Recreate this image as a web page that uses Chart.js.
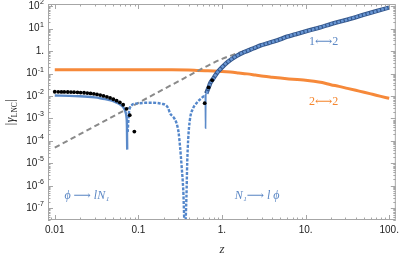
<!DOCTYPE html>
<html>
<head>
<meta charset="utf-8">
<script src="https://cdn.jsdelivr.net/npm/chart.js@4.4.0/dist/chart.umd.min.js"></script>
<style>
  html, body { margin: 0; padding: 0; background: #fff; }
  #wrap { width: 403px; height: 256px; }
</style>
</head>
<body>
<div id="wrap"><canvas id="myChart" width="403" height="256"></canvas></div>
<script>
// tick labels
const xTicks = [0.01, 0.1, 1, 10, 100];
const xTickLabels = ['0.01', '0.1', '1.', '10.', '100.'];
const yTicks = [1e-7, 1e-6, 1e-5, 1e-4, 1e-3, 1e-2, 1e-1, 1, 10, 100];
const yTickBase = ['10', '10', '10', '10', '10', '10', '10', '1.', '10', '10'];
const yTickSup = ['-7', '-6', '-5', '-4', '-3', '-2', '-1', '', '1', '2'];

// 2<->2 (orange)
const orangeZ = [0.01, 0.0158, 0.0251, 0.0398, 0.0631, 0.1, 0.158, 0.251, 0.398, 0.501, 0.631, 0.794, 1, 1.26, 1.58, 2, 2.51, 3.16, 3.98, 5.01, 6.31, 7.94, 10, 12.6, 15.8, 20, 25.1, 31.6, 39.8, 50.1, 63.1, 79.4, 100];
const orangeV = [0.150, 0.150, 0.150, 0.150, 0.150, 0.149, 0.148, 0.147, 0.143, 0.139, 0.135, 0.131, 0.125, 0.117, 0.107, 0.097, 0.086, 0.076, 0.069, 0.063, 0.058, 0.054, 0.051, 0.046, 0.040, 0.032, 0.027, 0.022, 0.018, 0.0148, 0.012, 0.0097, 0.0079];

// gray dashed approximation
const dashZ = [0.01, 0.02, 0.05, 0.1, 0.2, 0.3, 0.5, 0.8, 1, 1.5, 2, 3, 5, 10, 20, 50, 100];
const dashV = [5e-5, 2e-4, 1.25e-3, 5e-3, 0.02, 0.045, 0.125, 0.31, 0.45, 0.78, 1.12, 1.9, 3.5, 7.6, 16, 42, 88];

// 1<->2 (blue), three pieces
const blueLowZ = [0.01, 0.015, 0.02, 0.025, 0.03, 0.035, 0.04, 0.045, 0.05, 0.055, 0.06, 0.064, 0.067, 0.07, 0.072, 0.073, 0.0735];
const blueLowV = [0.0105, 0.0102, 0.0098, 0.0093, 0.0087, 0.0080, 0.0073, 0.0066, 0.0059, 0.0051, 0.0043, 0.0036, 0.0029, 0.0020, 0.0012, 4.5e-4, 4.1e-5];
const blueMidZ = [0.0745, 0.0771, 0.0836, 0.09, 0.101, 0.12, 0.144, 0.17, 0.19, 0.211, 0.226, 0.239, 0.265, 0.286, 0.302, 0.315, 0.329, 0.344, 0.36, 0.376, 0.384, 0.394, 0.413, 0.452, 0.494, 0.53, 0.567, 0.593, 0.62];
const blueMidV = [2.5e-4, 0.00177, 0.0040, 0.0045, 0.00475, 0.0050, 0.00506, 0.0049, 0.0045, 0.0040, 0.0030, 0.00172, 0.0011, 6.2e-4, 2.5e-4, 5.7e-5, 7.5e-6, 6.9e-7, 1e-8, 3.5e-7, 1.1e-5, 1.13e-4, 8.7e-4, 0.00286, 0.00475, 0.0064, 0.0079, 0.0093, 0.0102];
const blueHighZ = [0.62, 0.632, 0.636, 0.641, 0.649, 0.692, 0.73, 0.778, 0.83, 0.891, 1, 1.17, 1.5, 1.85, 2.4, 2.9, 3.6, 4.57, 6, 7.5, 10, 15, 20, 30, 50, 70, 100];
const blueHighV = [0.0102, 0.0108, 3.7e-4, 0.0115, 0.0132, 0.024, 0.040, 0.056, 0.082, 0.119, 0.19, 0.33, 0.62, 0.91, 1.35, 1.81, 2.3, 3.0, 4.4, 5.6, 7.6, 11.5, 16, 24, 42, 60, 88];

// black points
const blackLowZ = [0.01, 0.011, 0.012, 0.013, 0.0143, 0.0156, 0.017, 0.0187, 0.0204, 0.0224, 0.0245, 0.0268, 0.0293, 0.032, 0.035, 0.0383, 0.042, 0.0459, 0.0502, 0.055, 0.0601, 0.0658, 0.072, 0.0788, 0.0895];
const blackLowV = [0.0155, 0.0154, 0.0153, 0.0152, 0.0151, 0.0150, 0.0148, 0.0146, 0.0143, 0.0140, 0.0136, 0.0131, 0.0125, 0.0118, 0.0110, 0.0101, 0.0092, 0.0082, 0.0072, 0.0062, 0.0052, 0.0041, 0.0027, 0.0014, 2.6e-4];
const blackHighZ = [0.621, 0.692, 0.763];
const blackHighV = [0.0048, 0.0243, 0.051];

// text labels inside the plot
const annoText = ['1\u27F72', '2\u27F72', '\u03D5 \u27F6 lN\u2081', 'N\u2081\u27F6 l \u03D5'];
const annoZ = [16.4, 16.4, 0.0242, 2.63];
const annoV = [2.6, 0.0057, 3.6e-7, 3.5e-7];
const annoColor = ['#5b87c4', '#f5862e', '#5b87c4', '#5b87c4'];

const BLUE = '#5b8ac9';
const toPts = (xs, ys) => xs.map((x, i) => ({x: x, y: ys[i]}));

function decadeTicks(lo, hi) {
  let out = [];
  for (let e = Math.floor(Math.log10(lo)); e <= Math.ceil(Math.log10(hi)); e++) {
    for (let m = 1; m < 10; m++) {
      let v = m * Math.pow(10, e);
      if (v >= lo && v <= hi) out.push([v, m === 1]);
    }
  }
  return out;
}

const framePlugin = {
  id: 'frame',
  afterDraw(chart) {
    const {ctx, chartArea: a, scales} = chart;
    const xs = scales.x, ys = scales.y;
    ctx.save();
    ctx.strokeStyle = '#a6a6a6';
    ctx.lineWidth = 1;
    ctx.strokeRect(a.left + 0.5, a.top + 0.5, a.right - a.left - 1, a.bottom - a.top - 1);
    ctx.beginPath();
    decadeTicks(xs.min, xs.max).forEach(([v, major]) => {
      const px = Math.round(xs.getPixelForValue(v)) + 0.5;
      const len = major ? 5 : 2.5;
      ctx.moveTo(px, a.bottom); ctx.lineTo(px, a.bottom - len);
      ctx.moveTo(px, a.top); ctx.lineTo(px, a.top + len);
    });
    decadeTicks(ys.min, ys.max).forEach(([v, major]) => {
      const py = Math.round(ys.getPixelForValue(v)) + 0.5;
      const len = major ? 5 : 2.5;
      ctx.moveTo(a.left, py); ctx.lineTo(a.left + len, py);
      ctx.moveTo(a.right, py); ctx.lineTo(a.right - len, py);
    });
    ctx.stroke();

    // y tick labels with superscripts
    ctx.fillStyle = '#222';
    ctx.textAlign = 'right';
    ctx.textBaseline = 'middle';
    yTicks.forEach((v, i) => {
      const py = ys.getPixelForValue(v);
      let xr = a.left - 4;
      if (yTickSup[i]) {
        ctx.font = '7px "Liberation Sans", sans-serif';
        ctx.fillText(yTickSup[i], xr, py - 4);
        xr -= ctx.measureText(yTickSup[i]).width + 0.5;
      }
      ctx.font = '10px "Liberation Sans", sans-serif';
      ctx.fillText(yTickBase[i], xr, py);
    });

    // y axis title |gamma_LNC|
    ctx.save();
    ctx.translate(10, (a.top + a.bottom) / 2);
    ctx.rotate(-Math.PI / 2);
    const parts = [
      ['|', '12px "Liberation Serif", serif', 0],
      ['\u03B3', 'italic 12px "Liberation Serif", serif', 0],
      ['LNC', '7.5px "Liberation Serif", serif', 2.5],
      ['|', '12px "Liberation Serif", serif', 0]
    ];
    let total = 0;
    parts.forEach(p => { ctx.font = p[1]; total += ctx.measureText(p[0]).width + 0.5; });
    let cx = -total / 2;
    ctx.textAlign = 'left';
    ctx.textBaseline = 'alphabetic';
    parts.forEach(p => {
      ctx.font = p[1];
      ctx.fillText(p[0], cx, 4 + p[2]);
      cx += ctx.measureText(p[0]).width + 0.5;
    });
    ctx.restore();

    // labels in the plot
    ctx.textAlign = 'center';
    ctx.textBaseline = 'middle';
    annoText.forEach((t, i) => {
      ctx.font = (i < 2 ? '' : 'italic ') + '12px "Liberation Serif", "DejaVu Serif", "DejaVu Sans", serif';
      ctx.fillStyle = annoColor[i];
      ctx.fillText(t, xs.getPixelForValue(annoZ[i]), ys.getPixelForValue(annoV[i]));
    });
    ctx.restore();
  }
};

new Chart(document.getElementById('myChart'), {
  type: 'line',
  data: {
    datasets: [
      { data: toPts(blackHighZ, blackHighV), showLine: false, pointRadius: 1.9, pointBackgroundColor: '#000', pointBorderWidth: 0 },
      { data: toPts(blackLowZ, blackLowV), showLine: false, pointRadius: 1.9, pointBackgroundColor: '#000', pointBorderWidth: 0 },
      { data: toPts(blueHighZ, blueHighV), borderColor: '#6896d4', borderWidth: 2.6, pointRadius: 0,
        segment: { borderDash: c => c.p0DataIndex < 4 ? [] : [2.6, 1.2], borderColor: c => c.p0DataIndex < 4 ? BLUE : undefined, borderWidth: c => c.p0DataIndex < 4 ? 1.6 : undefined } },
      { data: toPts(blueHighZ.slice(4), blueHighV.slice(4)), borderColor: '#34578c', borderWidth: 4.4, pointRadius: 0 },
      { data: toPts(blueMidZ, blueMidV), borderColor: '#5487cb', borderWidth: 2.4, borderDash: [3, 1.5], pointRadius: 0 },
      { data: toPts(blueLowZ, blueLowV), borderColor: BLUE, borderWidth: 2.4, pointRadius: 0 },
      { data: toPts(dashZ, dashV), borderColor: '#8a8a8a', borderWidth: 2, borderDash: [5.5, 3.5], pointRadius: 0 },
      { data: toPts(orangeZ, orangeV), borderColor: '#f6893a', borderWidth: 3, pointRadius: 0 }
    ]
  },
  options: {
    responsive: false,
    animation: false,
    devicePixelRatio: 1,
    cubicInterpolationMode: 'monotone',
    layout: { padding: { top: 3, right: 3, left: 0, bottom: 0 } },
    plugins: { legend: { display: false }, tooltip: { enabled: false } },
    scales: {
      x: {
        type: 'logarithmic',
        min: 0.0083,
        max: 120,
        grid: { display: false, drawTicks: false },
        border: { display: false },
        afterBuildTicks: s => { s.ticks = xTicks.map(v => ({value: v})); },
        afterFit: s => { s.height = 36; },
        ticks: {
          autoSkip: false, maxRotation: 0, padding: 4, color: '#222',
          font: { family: 'Liberation Sans', size: 10 },
          callback: (v) => xTickLabels[xTicks.indexOf(v)]
        },
        title: { display: true, text: 'z', color: '#333', padding: 0,
          font: { family: 'Liberation Serif', style: 'italic', size: 13, lineHeight: 1 } }
      },
      y: {
        type: 'logarithmic',
        min: 3.2e-8,
        max: 126,
        grid: { display: false, drawTicks: false },
        border: { display: false },
        afterBuildTicks: s => { s.ticks = yTicks.map(v => ({value: v})); },
        afterFit: s => { s.width = 48; },
        ticks: { display: false }
      }
    }
  },
  plugins: [framePlugin]
});
</script>
</body>
</html>
